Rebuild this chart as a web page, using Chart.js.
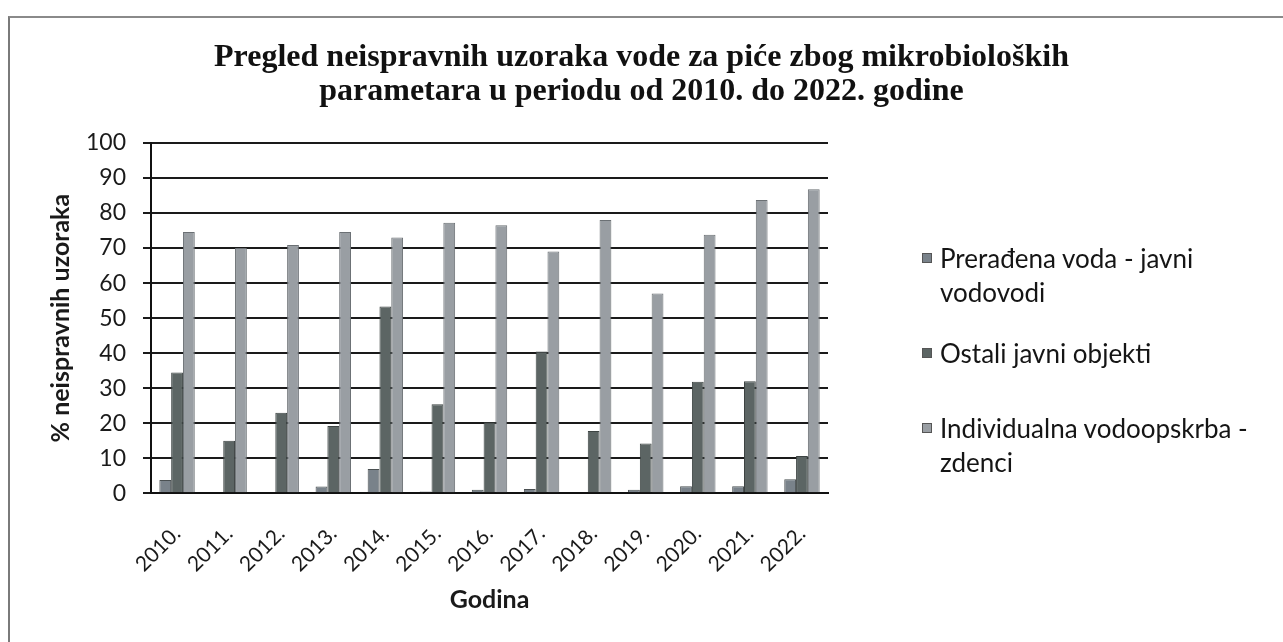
<!DOCTYPE html>
<html>
<head>
<meta charset="utf-8">
<script src="https://cdn.jsdelivr.net/npm/chart.js@4"></script>
<style>
  html, body { margin:0; padding:0; background:#fff; }
  #wrap { position:relative; width:1283px; height:642px; overflow:hidden; background:#fff; }
  #frame { position:absolute; left:8px; top:16px; width:1400px; height:800px; border-left:2px solid #7a7a7a; border-top:2px solid #8a8a8a; }
  #title { position:absolute; left:0; width:1283px; top:38px; text-align:center; font-family:"Liberation Serif","DejaVu Serif",serif; font-weight:bold; font-size:32px; line-height:34px; color:#111; }
  #legend { position:absolute; left:922px; top:0; }
  .li { position:absolute; left:0; width:360px; font-family:Lato,"Open Sans",sans-serif; font-size:26px; line-height:34px; color:#151515; }
  .li .sw { position:absolute; left:0; top:12px; width:10px; height:10px; border:1px solid #555; box-sizing:border-box; }
  .li .tx { position:absolute; left:18px; width:330px; }
  canvas { position:absolute; left:0; top:0; }
</style>
</head>
<body>
<div id="wrap">
  <div id="frame"></div>
  <canvas id="c" width="1283" height="642"></canvas>
  <div id="title">Pregled neispravnih uzoraka vode za piće zbog mikrobioloških<br>parametara u periodu od 2010. do 2022. godine</div>
  <div id="legend"></div>
</div>
<script>
const categories = ["2010.","2011.","2012.","2013.","2014.","2015.","2016.","2017.","2018.","2019.","2020.","2021.","2022."];
const seriesNames = ["Prerađena voda - javni vodovodi","Ostali javni objekti","Individualna vodoopskrba - zdenci"];
const preradjenaVoda = [3.8, 0, 0, 1.9, 6.9, 0.5, 1.0, 1.2, 0, 1.0, 2.0, 2.0, 4.0];
const ostaliObjekti = [34.5, 15.0, 23.0, 19.2, 53.3, 25.4, 20.3, 40.5, 17.8, 14.2, 31.8, 32.0, 10.6];
const zdenci = [74.6, 70.0, 70.9, 74.6, 73.0, 77.2, 76.5, 69.0, 78.0, 57.0, 73.8, 83.7, 86.8];
const yTicks = [0,10,20,30,40,50,60,70,80,90,100];
const colors = ["#79828a", "#5c6564", "#999ea3"];
const borders = ["#4a5052", "#3d4443", "#6b7074"];

const seriesValues = [preradjenaVoda, ostaliObjekti, zdenci];
const yTickFont = { family: "Lato, 'Open Sans', sans-serif", size: 23 };
const xTickFont = { family: "Lato, 'Open Sans', sans-serif", size: 21 };
const titleFont = { family: "Lato, 'Open Sans', sans-serif", size: 25, weight: "bold" };

new Chart(document.getElementById("c"), {
  type: "bar",
  data: {
    labels: categories,
    datasets: seriesValues.map((v, i) => ({
      label: seriesNames[i],
      data: v,
      backgroundColor: colors[i],
      borderColor: borders[i],
      borderWidth: 1,
      categoryPercentage: 0.68,
      barPercentage: 1.0
    }))
  },
  options: {
    responsive: false,
    devicePixelRatio: 1,
    animation: false,
    layout: { padding: { left: 46, right: 455, top: 143, bottom: 14 } },
    plugins: { legend: { display: false }, title: { display: false }, tooltip: { enabled: false } },
    scales: {
      x: {
        afterFit: (axis) => { axis.height -= 20; },
        grid: { display: false, drawTicks: false },
        border: { display: true, color: "#111", width: 2 },
        ticks: { color: "#1a1a1a", font: xTickFont, maxRotation: 45, minRotation: 45, padding: 28, autoSkip: false },
        title: { display: true, text: "Godina", color: "#1a1a1a", font: titleFont, padding: { top: 0, bottom: 13 } }
      },
      y: {
        min: 0, max: 100,
        afterFit: (axis) => { axis.width -= 17; },
        afterBuildTicks: (axis) => { axis.ticks = yTicks.map(v => ({ value: v })); },
        grid: { color: "#1a1a1a", lineWidth: 2, tickLength: 8, drawTicks: true },
        border: { display: true, color: "#111", width: 2 },
        ticks: { color: "#1a1a1a", font: yTickFont, padding: 17 },
        title: { display: true, text: "% neispravnih uzoraka", color: "#1a1a1a", font: titleFont, padding: { top: 0, bottom: 10 } }
      }
    }
  }
});

// HTML legend built from the dataset names/colours
const legendTops = [241, 336, 411];
const lg = document.getElementById("legend");
seriesNames.forEach((name, i) => {
  const d = document.createElement("div");
  d.className = "li";
  d.style.top = legendTops[i] + "px";
  const sw = document.createElement("div");
  sw.className = "sw";
  sw.style.background = colors[i];
  const tx = document.createElement("div");
  tx.className = "tx";
  tx.textContent = name;
  d.appendChild(sw); d.appendChild(tx);
  lg.appendChild(d);
});
</script>
</body>
</html>
